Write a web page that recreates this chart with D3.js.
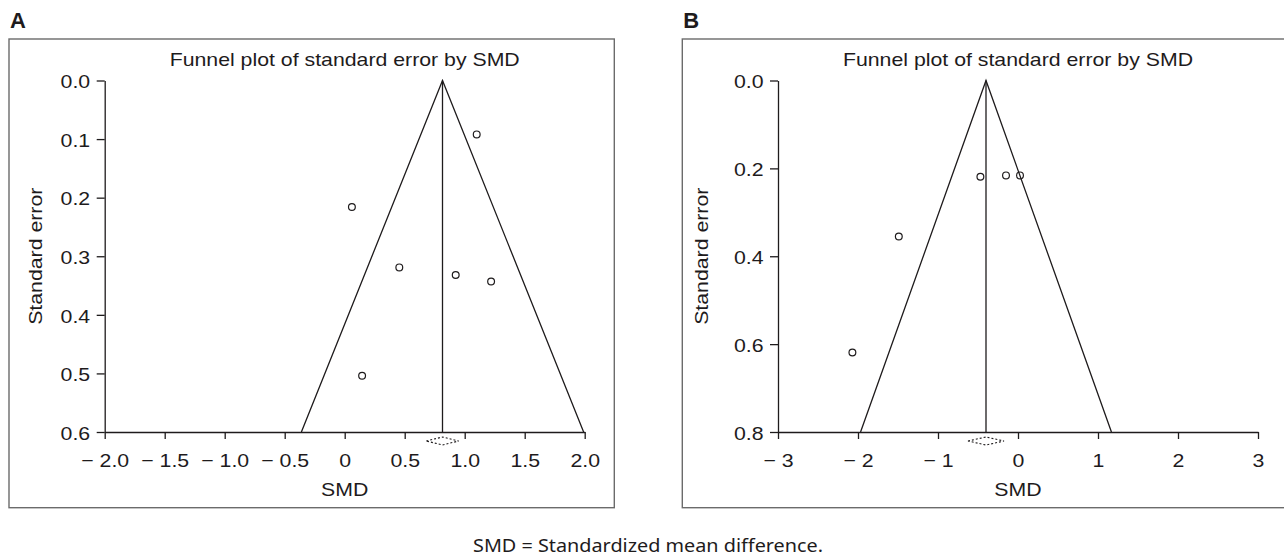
<!DOCTYPE html>
<html>
<head>
<meta charset="utf-8">
<script src="https://cdn.jsdelivr.net/npm/d3@7"></script>
<style>
  html, body { margin: 0; padding: 0; background: #fff; }
  svg { display: block; }
  text { fill: #1e1b1c; }
</style>
</head>
<body>
<svg id="chart" width="1284" height="558"></svg>
<script>
// ---------- DATA ----------
// Panel A
const smdA = [1.10, 0.06, 0.455, 0.925, 1.22, 0.145];
const seA  = [0.092, 0.216, 0.319, 0.332, 0.343, 0.504];
const meanA = 0.815;
const ciA = [0.68, 0.95];
const xTicksA = [-2.0, -1.5, -1.0, -0.5, 0, 0.5, 1.0, 1.5, 2.0];
const xTickLabelsA = ["\u2212 2.0", "\u2212 1.5", "\u2212 1.0", "\u2212 0.5", "0", "0.5", "1.0", "1.5", "2.0"];
const yTicksA = [0.0, 0.1, 0.2, 0.3, 0.4, 0.5, 0.6];
const yTickLabelsA = ["0.0", "0.1", "0.2", "0.3", "0.4", "0.5", "0.6"];

// Panel B
const smdB = [-0.47, -0.15, 0.025, -1.49, -2.07];
const seB  = [0.219, 0.216, 0.216, 0.355, 0.619];
const meanB = -0.40;
const ciB = [-0.625, -0.175];
const xTicksB = [-3, -2, -1, 0, 1, 2, 3];
const xTickLabelsB = ["\u2212 3", "\u2212 2", "\u2212 1", "0", "1", "2", "3"];
const yTicksB = [0.0, 0.2, 0.4, 0.6, 0.8];
const yTickLabelsB = ["0.0", "0.2", "0.4", "0.6", "0.8"];

const panelLetters = ["A", "B"];
const plotTitle = "Funnel plot of standard error by SMD";
const xLabel = "SMD";
const yLabel = "Standard error";
const footnote = "SMD = Standardized mean difference.";

// ---------- DRAW ----------
const svg = d3.select("#chart");
const FONT = "'Liberation Sans', Arial, Helvetica, sans-serif";
const FS = 19;
const STRETCH = 1.12;
const INK = "#1e1b1c";

function drawPanel(opt) {
  const { x0, letter, smd, se, mean, ci, xTicks, xLabels, yTicks, yLabels, xDomain, yMax, yLabX } = opt;
  const g = svg.append("g");
  const plotL = x0 + 95.7, plotR = x0 + 575.7;
  const top = 80.5, bottom = 432;

  // frame
  g.append("rect")
    .attr("x", x0).attr("y", 39)
    .attr("width", 605.3).attr("height", 468.7)
    .attr("fill", "none").attr("stroke", "#6b6b6b").attr("stroke-width", 1.4);

  // letter
  g.append("text").text(letter)
    .attr("x", x0 + 1).attr("y", 27.5)
    .attr("font-family", FONT).attr("font-weight", "bold")
    .attr("font-size", 22);

  const x = d3.scaleLinear().domain(xDomain).range([plotL, plotR]);
  const y = d3.scaleLinear().domain([0, yMax]).range([top, bottom]);

  // axes
  const xAxis = d3.axisBottom(x).tickValues(xTicks)
    .tickFormat((d, i) => xLabels[i]).tickSize(7).tickSizeOuter(0);
  const gx = g.append("g").attr("transform", `translate(0,${bottom})`).call(xAxis);
  gx.select(".domain").attr("stroke", INK).attr("stroke-width", 1.3);
  gx.selectAll(".tick line").attr("stroke", INK).attr("stroke-width", 1.3);
  gx.selectAll(".tick text")
    .attr("y", 34.7).attr("dy", null)
    .attr("font-family", FONT).attr("font-size", FS).attr("fill", INK)
    .classed("stretch", true);

  const yAxis = d3.axisLeft(y).tickValues(yTicks)
    .tickFormat((d, i) => yLabels[i]).tickSize(8).tickSizeOuter(0).tickPadding(6.5);
  const gy = g.append("g").attr("transform", `translate(${plotL},0)`).call(yAxis);
  gy.select(".domain").attr("stroke", INK).attr("stroke-width", 1.3);
  gy.selectAll(".tick line").attr("stroke", INK).attr("stroke-width", 1.3);
  gy.selectAll(".tick text")
    .attr("dy", "0.38em")
    .attr("font-family", FONT).attr("font-size", FS).attr("fill", INK)
    .classed("stretch", true);

  // title
  g.append("text").text(plotTitle)
    .attr("x", (plotL + plotR) / 2).attr("y", 66)
    .attr("text-anchor", "middle")
    .attr("font-family", FONT).attr("font-size", FS)
    .classed("stretch", true);

  // axis labels
  g.append("text").text(xLabel)
    .attr("x", x(0)).attr("y", 496)
    .attr("text-anchor", "middle")
    .attr("font-family", FONT).attr("font-size", FS)
    .classed("stretch", true);

  g.append("text").text(yLabel)
    .attr("transform", `translate(${yLabX},${(top + bottom) / 2}) rotate(-90)`)
    .attr("text-anchor", "middle")
    .attr("font-family", FONT).attr("font-size", FS)
    .classed("stretch", true);

  // funnel
  const funnel = [
    [mean - 1.96 * yMax, yMax],
    [mean, 0],
    [mean + 1.96 * yMax, yMax]
  ];
  const line = d3.line().x(d => x(d[0])).y(d => y(d[1]));
  g.append("path").attr("d", line(funnel))
    .attr("fill", "none").attr("stroke", INK).attr("stroke-width", 1.3);
  g.append("path").attr("d", line([[mean, 0], [mean, yMax]]))
    .attr("fill", "none").attr("stroke", INK).attr("stroke-width", 1.3);

  // diamond (summary CI)
  const yc = y(yMax) + 9;
  const dpts = [[x(ci[0]), yc], [x(mean), yc - 4], [x(ci[1]), yc], [x(mean), yc + 4]];
  g.append("path").attr("d", d3.line()(dpts) + "Z")
    .attr("fill", "none").attr("stroke", INK).attr("stroke-width", 1.1)
    .attr("stroke-dasharray", "2,2");

  // points
  g.selectAll("circle.pt").data(smd.map((d, i) => [d, se[i]]))
    .enter().append("circle").attr("class", "pt")
    .attr("cx", d => x(d[0])).attr("cy", d => y(d[1]))
    .attr("r", 3.4)
    .attr("fill", "none").attr("stroke", INK).attr("stroke-width", 1.2);
}

drawPanel({
  x0: 9, letter: panelLetters[0], smd: smdA, se: seA, mean: meanA, ci: ciA,
  xTicks: xTicksA, xLabels: xTickLabelsA, yTicks: yTicksA, yLabels: yTickLabelsA,
  xDomain: [-2, 2], yMax: 0.6, yLabX: 41.7
});
drawPanel({
  x0: 682.3, letter: panelLetters[1], smd: smdB, se: seB, mean: meanB, ci: ciB,
  xTicks: xTicksB, xLabels: xTickLabelsB, yTicks: yTicksB, yLabels: yTickLabelsB,
  xDomain: [-3, 3], yMax: 0.8, yLabX: 708.3
});

// footnote
svg.append("text").text(footnote)
  .attr("x", 648).attr("y", 551.5)
  .attr("text-anchor", "middle")
  .attr("font-family", "'Noto Sans', 'Open Sans', sans-serif")
  .attr("font-size", 18)
  .attr("textLength", 350).attr("lengthAdjust", "spacingAndGlyphs");

// horizontal stretch of the chart texts to match the reference proportions
svg.selectAll("text.stretch").each(function () {
  const len = this.getComputedTextLength();
  d3.select(this).attr("textLength", len * STRETCH).attr("lengthAdjust", "spacingAndGlyphs");
});
</script>
</body>
</html>
